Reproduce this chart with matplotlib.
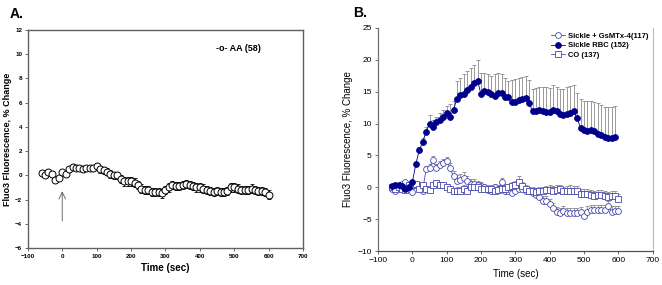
import numpy as np
import matplotlib
matplotlib.use("Agg")
import matplotlib.pyplot as plt

# ---------------- Data ----------------
time_a = list(range(-60, 601, 10))
aa_mean = [0.2, 0.0, 0.3, 0.1, -0.4, -0.2, 0.3, 0.1, 0.5, 0.7,
           0.6, 0.6, 0.5, 0.6, 0.6, 0.6, 0.8, 0.5, 0.4, 0.3,
           0.1, 0.0, 0.0, -0.3, -0.5, -0.5, -0.5, -0.6, -0.8, -1.1,
           -1.2, -1.2, -1.4, -1.4, -1.4, -1.5, -1.2, -1.0, -0.8, -0.9,
           -0.9, -0.8, -0.7, -0.8, -0.9, -1.0, -1.0, -1.1, -1.2, -1.3,
           -1.4, -1.3, -1.4, -1.4, -1.3, -1.0, -1.0, -1.1, -1.2, -1.2,
           -1.2, -1.1, -1.2, -1.3, -1.3, -1.4, -1.6]
aa_err = [0.1, 0.1, 0.1, 0.1, 0.1, 0.1, 0.15, 0.15, 0.15, 0.2,
          0.2, 0.2, 0.2, 0.2, 0.2, 0.25, 0.25, 0.3, 0.3, 0.3,
          0.3, 0.3, 0.3, 0.35, 0.35, 0.35, 0.35, 0.35, 0.35, 0.35,
          0.35, 0.35, 0.35, 0.35, 0.35, 0.35, 0.35, 0.35, 0.35, 0.35,
          0.35, 0.35, 0.35, 0.35, 0.35, 0.35, 0.35, 0.35, 0.35, 0.35,
          0.35, 0.35, 0.35, 0.35, 0.35, 0.35, 0.35, 0.35, 0.35, 0.35,
          0.35, 0.35, 0.35, 0.35, 0.35, 0.35, 0.35]

time_b = list(range(-60, 601, 10))
time_rbc = list(range(-60, 591, 10))
rbc_mean = [0.2, 0.3, 0.3, 0.2, -0.2, 0.1, 0.8, 3.6, 5.8, 7.1,
            8.7, 10.0, 9.5, 10.3, 10.6, 11.0, 11.6, 11.1, 12.2, 13.9,
            14.5, 14.7, 15.3, 15.8, 16.3, 16.7, 14.6, 15.1, 15.0, 14.6,
            14.3, 14.8, 14.8, 14.2, 14.2, 13.4, 13.4, 13.7, 13.8, 14.0,
            13.3, 11.9, 12.0, 12.1, 12.0, 11.8, 11.8, 12.2, 11.9, 11.5,
            11.4, 11.5, 11.6, 11.9, 10.8, 9.3, 9.0, 8.9, 9.0, 8.8,
            8.4, 8.2, 7.9, 7.8, 7.8, 7.9]
rbc_upper = [0.3, 0.3, 0.3, 0.3, 0.3, 0.3, 0.4, 0.4, 0.5, 0.6,
             0.8, 1.3, 1.0, 0.7, 1.1, 1.1, 1.2, 1.9, 1.3, 2.7,
             2.7, 3.0, 2.9, 2.9, 2.9, 3.2, 3.4, 2.8, 2.7, 2.9,
             3.4, 3.1, 3.0, 2.9, 2.4, 3.4, 3.6, 3.4, 3.5, 3.4,
             3.6, 3.5, 3.6, 3.7, 3.8, 3.9, 3.8, 3.9, 3.8, 4.0,
             4.1, 4.2, 4.3, 4.1, 4.0, 4.5, 4.6, 4.7, 4.6, 4.6,
             4.8, 4.7, 4.7, 4.8, 4.8, 4.8]

gs_mean = [-0.3, -0.5, 0.0, 0.6, 0.9, 0.0, -0.8, 0.3, 0.0, -0.5,
           2.8, 3.1, 4.3, 3.0, 3.5, 3.8, 4.1, 3.0, 1.7, 1.0,
           1.2, 1.5, 1.0, 0.6, 0.6, 0.3, 0.2, 0.0, -0.4, -0.5,
           0.0, -0.3, 0.8, -0.6, -0.6, -0.9, -0.6, -0.3, -0.2, -0.6,
           -0.6, -0.9, -1.2, -1.5, -2.2, -2.2, -2.6, -3.3, -3.9, -4.0,
           -3.7, -4.0, -4.0, -4.1, -4.0, -3.9, -4.5, -3.8, -3.6, -3.6,
           -3.5, -3.5, -3.6, -3.0, -3.8, -3.7, -3.7]
gs_upper = [0.3, 0.3, 0.3, 0.3, 0.3, 0.3, 0.3, 0.3, 0.3, 0.3,
            0.5, 0.6, 0.6, 0.6, 0.6, 0.6, 0.6, 0.8, 0.8, 0.9,
            0.9, 0.9, 0.8, 0.7, 0.7, 0.7, 0.6, 0.6, 0.6, 0.6,
            0.6, 0.6, 0.6, 0.6, 0.6, 0.6, 0.6, 0.6, 0.6, 0.6,
            0.6, 0.6, 0.7, 0.7, 0.8, 0.8, 0.8, 0.8, 0.8, 0.8,
            0.8, 0.8, 0.8, 0.8, 0.8, 0.8, 0.8, 0.8, 0.8, 0.8,
            0.8, 0.8, 0.8, 0.8, 0.8, 0.8, 0.8]

co_mean = [0.0, -0.2, 0.0, -0.2, -0.4, 0.3, 0.3, 0.5, -0.3, 0.3,
           -0.2, -0.4, 0.3, 0.7, 0.4, 0.3, 0.0, -0.3, -0.6, -0.5,
           -0.5, -0.3, -0.6, 0.0, 0.1, 0.0, -0.3, -0.2, -0.3, -0.3,
           -0.6, -0.4, -0.2, -0.3, 0.0, 0.2, 0.3, 0.9, 0.2, -0.3,
           -0.5, -0.6, -0.7, -0.6, -0.6, -0.4, -0.4, -0.5, -0.4, -0.3,
           -0.6, -0.5, -0.5, -0.6, -0.6, -1.0, -1.0, -1.1, -1.2, -1.3,
           -1.2, -1.2, -1.3, -1.5, -1.4, -1.3, -1.9]
co_upper = [0.3, 0.3, 0.3, 0.3, 0.3, 0.3, 0.3, 0.3, 0.3, 0.3,
            0.4, 0.4, 0.4, 0.4, 0.4, 0.4, 0.4, 0.5, 0.5, 0.6,
            0.6, 0.7, 0.6, 0.6, 0.6, 0.6, 0.6, 0.6, 0.6, 0.6,
            0.6, 0.6, 0.6, 0.6, 0.6, 0.6, 0.7, 0.8, 0.7, 0.6,
            0.6, 0.6, 0.6, 0.6, 0.6, 0.6, 0.7, 0.7, 0.7, 0.7,
            0.7, 0.7, 0.8, 0.8, 0.8, 0.8, 0.8, 0.8, 0.8, 0.8,
            0.8, 0.8, 0.8, 0.8, 0.8, 0.8, 0.8]

xticks = [-100, 0, 100, 200, 300, 400, 500, 600, 700]
yticks_a = [-6, -4, -2, 0, 2, 4, 6, 8, 10, 12]
yticks_b = [-10, -5, 0, 5, 10, 15, 20, 25]

# ---------------- Figure ----------------
fig = plt.figure(figsize=(6.62, 2.85), dpi=100)
plt.rcParams['font.family'] = ['Liberation Sans', 'DejaVu Sans']

# Panel A
axA = fig.add_axes([0.042, 0.130, 0.416, 0.765])
axA.errorbar(time_a, aa_mean, yerr=aa_err, fmt='none', ecolor='black',
             elinewidth=0.6, capsize=1.5, capthick=0.6, zorder=2)
axA.plot(time_a, aa_mean, linestyle='none', marker='o', markersize=5.0,
         markerfacecolor='white', markeredgecolor='black',
         markeredgewidth=0.7, zorder=3)
axA.set_xlim(-100, 700)
axA.set_ylim(-6, 12)
axA.set_xticks(xticks)
axA.set_yticks(yticks_a)
axA.tick_params(labelsize=4.5, length=2, width=0.6, pad=2, color='#555555')
for lab in axA.get_xticklabels() + axA.get_yticklabels():
    lab.set_fontweight('bold')
axA.set_xlabel('Time (sec)', fontsize=7, fontweight='bold', labelpad=3)
axA.set_ylabel('Fluo3 Fluorescence, % Change', fontsize=6.5,
               fontweight='bold', labelpad=2)
for s in axA.spines.values():
    s.set_linewidth(1.0)
    s.set_color('#606060')
axA.annotate('', xy=(0, -1.1), xytext=(0, -4),
             arrowprops=dict(arrowstyle='->', color='#555555', lw=0.6,
                             mutation_scale=12))
axA.text(448, 10.5, '-o- AA (58)', fontsize=6.5, fontweight='bold',
         va='center', ha='left')
fig.text(0.015, 0.952, 'A.', fontsize=10, fontweight='bold', va='center')

# Panel B
navy = '#00008B'
blue = '#4848B0'
axB = fig.add_axes([0.571, 0.119, 0.415, 0.783])
axB.errorbar(time_rbc, rbc_mean, yerr=[np.zeros(len(rbc_upper)), rbc_upper],
             fmt='none', ecolor='#8a8a8a', elinewidth=0.6, capsize=1.5,
             capthick=0.6, zorder=1)
axB.errorbar(time_b, gs_mean, yerr=[np.zeros(len(gs_upper)), gs_upper],
             fmt='none', ecolor='#8a8a8a', elinewidth=0.6, capsize=1.5,
             capthick=0.6, zorder=1)
axB.errorbar(time_b, co_mean, yerr=[np.zeros(len(co_upper)), co_upper],
             fmt='none', ecolor='#8a8a8a', elinewidth=0.6, capsize=1.5,
             capthick=0.6, zorder=1)
axB.plot(time_b, gs_mean, color=blue, lw=0.6, marker='o', markersize=4.2,
         markerfacecolor='white', markeredgecolor=blue, markeredgewidth=0.6,
         label='Sickle + GsMTx-4(117)', zorder=3)
axB.plot(time_rbc, rbc_mean, color=navy, lw=0.6, marker='o', markersize=4.2,
         markerfacecolor=navy, markeredgecolor=navy, markeredgewidth=0.6,
         label='Sickle RBC (152)', zorder=4)
axB.plot(time_b, co_mean, color=blue, lw=0.6, marker='s', markersize=3.9,
         markerfacecolor='white', markeredgecolor=blue, markeredgewidth=0.6,
         label='CO (137)', zorder=3)
axB.set_xlim(-100, 700)
axB.set_ylim(-10, 25)
axB.set_xticks(xticks)
axB.set_yticks(yticks_b)
axB.tick_params(labelsize=6, length=2.5, width=0.6, pad=2, color='#555555')
axB.set_xlabel('Time (sec)', fontsize=7, labelpad=3)
axB.set_ylabel('Fluo3 Fluorescence, % Change', fontsize=7, labelpad=3)
axB.spines['top'].set_visible(False)
axB.spines['right'].set_color('#bbbbbb')
axB.spines['left'].set_linewidth(0.9)
axB.spines['left'].set_color('#707070')
axB.spines['bottom'].set_linewidth(0.9)
axB.spines['bottom'].set_color('#505050')
leg = axB.legend(loc='upper right', frameon=False,
                 handlelength=1.8, handletextpad=0.4, labelspacing=0.3,
                 borderaxespad=0.2, prop={'weight': 'bold', 'size': 5.5})
fig.text(0.533, 0.955, 'B.', fontsize=10, fontweight='bold', va='center')

fig.savefig('out.png', dpi=100)
